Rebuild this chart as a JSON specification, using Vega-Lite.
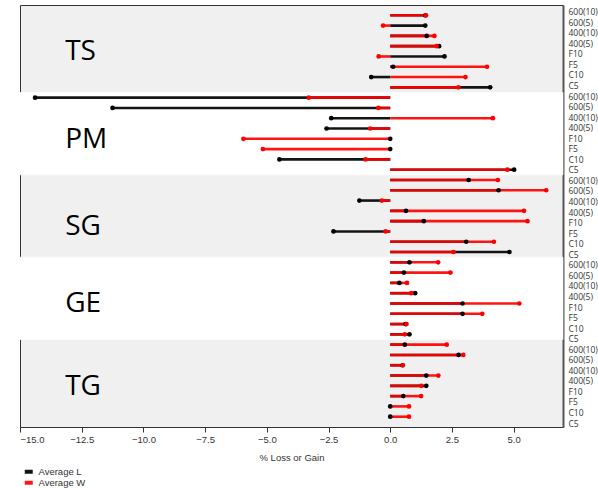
{
  "$schema": "https://vega.github.io/schema/vega-lite/v6.json",
  "width": 543,
  "height": 422,
  "autosize": "none",
  "padding": {"left": 20, "top": 5, "right": 35, "bottom": 61},
  "background": "white",
  "config": {
    "view": {"fill": "#f0f0f0", "stroke": "#333333", "strokeWidth": 1},
    "font": "Liberation Sans"
  },
  "data": {
    "values": [
      {"group": "TS", "cat": "600(10)", "L": 1.42, "W": 1.45},
      {"group": "TS", "cat": "600(5)", "L": 1.42, "W": -0.29},
      {"group": "TS", "cat": "400(10)", "L": 1.48, "W": 1.79},
      {"group": "TS", "cat": "400(5)", "L": 1.98, "W": 1.88},
      {"group": "TS", "cat": "F10", "L": 2.2, "W": -0.47},
      {"group": "TS", "cat": "F5", "L": 0.12, "W": 3.92},
      {"group": "TS", "cat": "C10", "L": -0.77, "W": 3.05},
      {"group": "TS", "cat": "C5", "L": 4.05, "W": 2.76},
      {"group": "PM", "cat": "600(10)", "L": -14.39, "W": -3.3},
      {"group": "PM", "cat": "600(5)", "L": -11.25, "W": -0.48},
      {"group": "PM", "cat": "400(10)", "L": -2.39, "W": 4.16},
      {"group": "PM", "cat": "400(5)", "L": -2.58, "W": -0.81},
      {"group": "PM", "cat": "F10", "L": 0.0, "W": -5.95},
      {"group": "PM", "cat": "F5", "L": 0.0, "W": -5.16},
      {"group": "PM", "cat": "C10", "L": -4.49, "W": -1.0},
      {"group": "PM", "cat": "C5", "L": 5.02, "W": 4.75},
      {"group": "SG", "cat": "600(10)", "L": 3.18, "W": 4.36},
      {"group": "SG", "cat": "600(5)", "L": 4.39, "W": 6.32},
      {"group": "SG", "cat": "400(10)", "L": -1.25, "W": -0.34},
      {"group": "SG", "cat": "400(5)", "L": 0.64, "W": 5.42},
      {"group": "SG", "cat": "F10", "L": 1.36, "W": 5.56},
      {"group": "SG", "cat": "F5", "L": -2.3, "W": -0.19},
      {"group": "SG", "cat": "C10", "L": 3.08, "W": 4.2},
      {"group": "SG", "cat": "C5", "L": 4.83, "W": 2.56},
      {"group": "GE", "cat": "600(10)", "L": 0.78, "W": 1.94},
      {"group": "GE", "cat": "600(5)", "L": 0.55, "W": 2.44},
      {"group": "GE", "cat": "400(10)", "L": 0.37, "W": 0.68},
      {"group": "GE", "cat": "400(5)", "L": 1.01, "W": 0.85},
      {"group": "GE", "cat": "F10", "L": 2.93, "W": 5.23},
      {"group": "GE", "cat": "F5", "L": 2.93, "W": 3.73},
      {"group": "GE", "cat": "C10", "L": 0.62, "W": 0.66},
      {"group": "GE", "cat": "C5", "L": 0.78, "W": 0.59},
      {"group": "TG", "cat": "600(10)", "L": 0.59, "W": 2.29},
      {"group": "TG", "cat": "600(5)", "L": 2.77, "W": 2.96},
      {"group": "TG", "cat": "400(10)", "L": 0.5, "W": 0.51},
      {"group": "TG", "cat": "400(5)", "L": 1.46, "W": 1.95},
      {"group": "TG", "cat": "F10", "L": 1.46, "W": 1.26},
      {"group": "TG", "cat": "F5", "L": 0.53, "W": 1.25},
      {"group": "TG", "cat": "C10", "L": 0.0, "W": 0.76},
      {"group": "TG", "cat": "C5", "L": 0.0, "W": 0.76}
    ]
  },
  "transform": [
    {"calculate": "datum.group + '|' + datum.cat", "as": "key"}
  ],
  "resolve": {"scale": {"y": "independent"}, "axis": {"y": "independent"}},
  "layer": [
    {
      "encoding": {
        "y": {
          "field": "key",
          "type": "nominal",
          "scale": {
            "domain": [
              "TS|600(10)", "TS|600(5)", "TS|400(10)", "TS|400(5)", "TS|F10", "TS|F5", "TS|C10", "TS|C5",
              "PM|600(10)", "PM|600(5)", "PM|400(10)", "PM|400(5)", "PM|F10", "PM|F5", "PM|C10", "PM|C5",
              "SG|600(10)", "SG|600(5)", "SG|400(10)", "SG|400(5)", "SG|F10", "SG|F5", "SG|C10", "SG|C5",
              "GE|600(10)", "GE|600(5)", "GE|400(10)", "GE|400(5)", "GE|F10", "GE|F5", "GE|C10", "GE|C5",
              "TG|600(10)", "TG|600(5)", "TG|400(10)", "TG|400(5)", "TG|F10", "TG|F5", "TG|C10", "TG|C5"
            ],
            "paddingInner": 0,
            "paddingOuter": 0.5
          },
          "axis": null
        }
      },
      "layer": [
        {
          "transform": [{"filter": "datum.group === 'PM' || datum.group === 'GE'"}],
          "mark": {"type": "rect", "fill": "white", "stroke": "white", "strokeWidth": 0.6},
          "encoding": {
            "x": {"datum": -15, "type": "quantitative"},
            "x2": {"datum": 7}
          }
        },
        {
          "transform": [{"fold": ["L", "W"], "as": ["series", "value"]},
                        {"calculate": "datum.series === 'L' ? 'Average L' : 'Average W'", "as": "Series"}],
          "layer": [
            {
              "mark": {"type": "rule", "strokeWidth": 2.6, "opacity": 0.92},
              "encoding": {
                "x": {
                  "field": "value",
                  "type": "quantitative",
                  "scale": {"domain": [-15, 7], "nice": false, "zero": false},
                  "axis": {
                    "title": "% Loss or Gain",
                    "values": [-15, -12.5, -10, -7.5, -5, -2.5, 0, 2.5, 5],
                    "format": ".1f",
                    "grid": false,
                    "labelFontSize": 9.5,
                    "labelColor": "#333333",
                    "titleFontSize": 9.5,
                    "titleFontWeight": "normal",
                    "titleColor": "#333333",
                    "titlePadding": 9,
                    "tickSize": 5,
                    "tickColor": "#333333",
                    "domainColor": "#333333",
                    "labelPadding": 2
                  }
                },
                "x2": {"datum": 0},
                "color": {
                  "field": "Series",
                  "type": "nominal",
                  "scale": {"domain": ["Average L", "Average W"], "range": ["#000000", "#ff0000"]},
                  "legend": {
                    "title": null,
                    "orient": "none",
                    "legendX": 4,
                    "legendY": 462,
                    "symbolType": "M-1,-0.5H1V0.5H-1Z",
                    "symbolSize": 64,
                    "symbolStrokeWidth": 0,
                    "labelFontSize": 9.5,
                    "labelColor": "#333333",
                    "labelOffset": 5,
                    "rowPadding": 0,
                    "padding": 0
                  }
                }
              }
            },
            {
              "mark": {"type": "point", "filled": true, "size": 22, "opacity": 1},
              "encoding": {
                "x": {"field": "value", "type": "quantitative"},
                "color": {"field": "Series", "type": "nominal"}
              }
            }
          ]
        },
        {
          "data": {"values": [
            {"label": "TS", "row": "TS|400(5)"},
            {"label": "SG", "row": "SG|F10"}
          ]},
          "mark": {"type": "text", "align": "left", "baseline": "middle", "dy": 6, "font": "Open Sans", "fontSize": 28, "color": "#000000"},
          "encoding": {
            "x": {"datum": -13.17, "type": "quantitative"},
            "y": {"field": "row", "type": "nominal"},
            "text": {"field": "label"}
          }
        },
        {
          "data": {"values": [
            {"label": "PM", "row": "PM|F10"},
            {"label": "GE", "row": "GE|F10"},
            {"label": "TG", "row": "TG|F10"}
          ]},
          "mark": {"type": "text", "align": "left", "baseline": "middle", "dy": 1, "font": "Open Sans", "fontSize": 28, "color": "#000000"},
          "encoding": {
            "x": {"datum": -13.17, "type": "quantitative"},
            "y": {"field": "row", "type": "nominal"},
            "text": {"field": "label"}
          }
        }
      ]
    },
    {
      "mark": {"type": "point", "opacity": 0},
      "encoding": {
        "y": {
          "field": "key",
          "type": "nominal",
          "scale": {
            "domain": [
              "TS|600(10)", "TS|600(5)", "TS|400(10)", "TS|400(5)", "TS|F10", "TS|F5", "TS|C10", "TS|C5",
              "PM|600(10)", "PM|600(5)", "PM|400(10)", "PM|400(5)", "PM|F10", "PM|F5", "PM|C10", "PM|C5",
              "SG|600(10)", "SG|600(5)", "SG|400(10)", "SG|400(5)", "SG|F10", "SG|F5", "SG|C10", "SG|C5",
              "GE|600(10)", "GE|600(5)", "GE|400(10)", "GE|400(5)", "GE|F10", "GE|F5", "GE|C10", "GE|C5",
              "TG|600(10)", "TG|600(5)", "TG|400(10)", "TG|400(5)", "TG|F10", "TG|F5", "TG|C10", "TG|C5"
            ],
            "paddingInner": 0,
            "paddingOuter": 0.17,
            "align": 0.63
          },
          "axis": {
            "orient": "right",
            "title": null,
            "ticks": false,
            "labelPadding": 5,
            "labelFont": "Open Sans",
            "labelFontSize": 8.5,
            "labelColor": "#333333",
            "labelExpr": "split(datum.value, '|')[1]",
            "domainColor": "#555555",
            "domainWidth": 2,
            "grid": false
          }
        }
      }
    }
  ]
}
